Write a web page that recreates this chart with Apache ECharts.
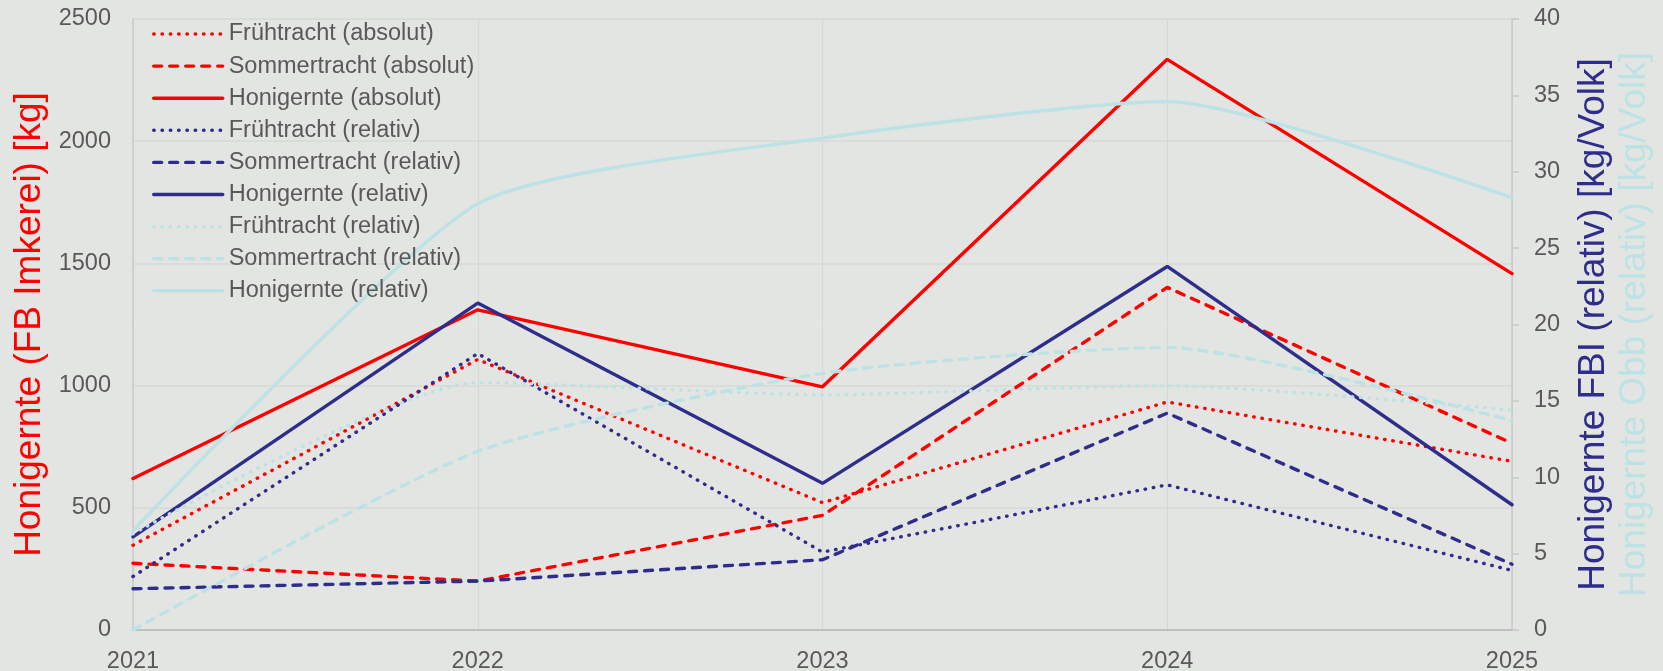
<!DOCTYPE html>
<html lang="de">
<head>
    <meta charset="UTF-8">
    <title>Honigernte</title>
    <style>
        html, body {
            width: 100%;
            height: 100%;
            margin: 0;
            overflow: hidden;
            background: #E3E5E2;
        }
        #main {
            width: 1663px;
            height: 671px;
        }
    </style>
</head>
<body>
<div id="main"></div>
<script src="https://cdn.jsdelivr.net/npm/echarts/dist/echarts.min.js"></script>
<script>
    // Jahre
    var years = ['2021', '2022', '2023', '2024', '2025'];

    // FB Imkerei absolut [kg]
    var fruehAbs = [347, 1107, 521, 933, 690];
    var sommerAbs = [273, 200, 469, 1402, 764];
    var honigAbs = [620, 1310, 995, 2335, 1458];

    // FBI relativ [kg/Volk]
    var fruehFbi = [3.5, 18.1, 5.1, 9.5, 3.9];
    var sommerFbi = [2.7, 3.2, 4.6, 14.2, 4.3];
    var honigFbi = [6.1, 21.4, 9.6, 23.8, 8.2];

    // Obb relativ [kg/Volk]
    var fruehObb = [6.3, 16.2, 15.4, 16.0, 14.4];
    var sommerObb = [0, 11.7, 16.8, 18.5, 13.7];
    var honigObb = [6.5, 27.9, 32.2, 34.6, 28.3];

    var RED = '#FF0000';
    var BLUE = '#2E2D8C';
    var LIGHT = '#BCE2E6';
    var FONT = '"Liberation Sans", Arial, sans-serif';

    var DOT = [0.5, 7.8];
    var DASH = [8, 8];

    function line(name, data, color, type, axis, smooth) {
        return {
            name: name,
            type: 'line',
            yAxisIndex: axis,
            data: data,
            symbol: 'none',
            smooth: smooth ? 0.2 : false,
            lineStyle: {
                color: color,
                width: 3.4,
                type: type,
                cap: 'round'
            },
            itemStyle: {color: color}
        };
    }

    var myChart = echarts.init(document.getElementById('main'));
    var option = {
        backgroundColor: '#E3E5E2',
        animation: false,
        textStyle: {fontFamily: FONT},
        grid: {
            left: 133,
            right: 151,
            top: 19,
            bottom: 41,
            containLabel: false,
            outerBoundsMode: 'none'
        },
        legend: {
            orient: 'vertical',
            left: 147,
            top: 17,
            itemWidth: 69,
            itemHeight: 14,
            itemGap: 8.1,
            itemStyle: {opacity: 0, borderWidth: 0},
            lineStyle: {width: 3.4},
            textStyle: {
                color: '#595959',
                fontSize: 23.5,
                lineHeight: 24,
                fontFamily: FONT,
                padding: [0, 0, 0, 1]
            }
        },
        xAxis: {
            type: 'category',
            data: years,
            boundaryGap: false,
            axisLine: {lineStyle: {color: '#BFBFBF', width: 2}},
            axisTick: {show: false},
            axisLabel: {color: '#595959', fontSize: 23.5, margin: 20, fontFamily: FONT},
            splitLine: {show: true, lineStyle: {color: '#D6D8D5', width: 1}}
        },
        yAxis: [{
            type: 'value',
            min: 0,
            max: 2500,
            interval: 500,
            position: 'left',
            name: 'Honigernte (FB Imkerei) [kg]',
            nameLocation: 'middle',
            nameRotate: 90,
            nameGap: 73,
            nameTextStyle: {color: RED, fontSize: 37, fontFamily: FONT},
            axisLine: {show: true, lineStyle: {color: '#C8C8C8', width: 1.5}},
            axisTick: {show: false},
            axisLabel: {
                color: '#595959', fontSize: 23.5, margin: 22, fontFamily: FONT,
                formatter: function (v) { return String(v); }
            },
            splitLine: {lineStyle: {color: '#D6D8D5', width: 1.5}}
        }, {
            type: 'value',
            min: 0,
            max: 40,
            interval: 5,
            position: 'right',
            name: 'Honigernte FBI (relativ) [kg/Volk]',
            nameLocation: 'middle',
            nameRotate: 90,
            nameGap: 63,
            nameTextStyle: {color: BLUE, fontSize: 37, fontFamily: FONT},
            axisLine: {show: true, lineStyle: {color: '#C8C8C8', width: 1.5}},
            axisTick: {show: true, length: 7, lineStyle: {color: '#C8C8C8', width: 1.5}},
            axisLabel: {color: '#595959', fontSize: 23.5, margin: 22, fontFamily: FONT},
            splitLine: {show: false}
        }, {
            type: 'value',
            min: 0,
            max: 40,
            interval: 5,
            position: 'right',
            name: 'Honigernte Obb (relativ) [kg/Volk]',
            nameLocation: 'middle',
            nameRotate: 90,
            nameGap: 104,
            nameTextStyle: {color: LIGHT, fontSize: 37, fontFamily: FONT},
            axisLine: {show: false},
            axisTick: {show: false},
            axisLabel: {show: false},
            splitLine: {show: false}
        }],
        series: [
            line('Frühtracht (absolut)', fruehAbs, RED, DOT, 0, false),
            line('Sommertracht (absolut)', sommerAbs, RED, DASH, 0, false),
            line('Honigernte (absolut)', honigAbs, RED, 'solid', 0, false),
            line('Frühtracht (relativ)', fruehFbi, BLUE, DOT, 1, false),
            line('Sommertracht (relativ)', sommerFbi, BLUE, DASH, 1, false),
            line('Honigernte (relativ)', honigFbi, BLUE, 'solid', 1, false),
            line('Frühtracht (relativ) ', fruehObb, LIGHT, DOT, 2, true),
            line('Sommertracht (relativ) ', sommerObb, LIGHT, DASH, 2, true),
            line('Honigernte (relativ) ', honigObb, LIGHT, 'solid', 2, true)
        ]
    };
    myChart.setOption(option);
</script>
</body>
</html>
